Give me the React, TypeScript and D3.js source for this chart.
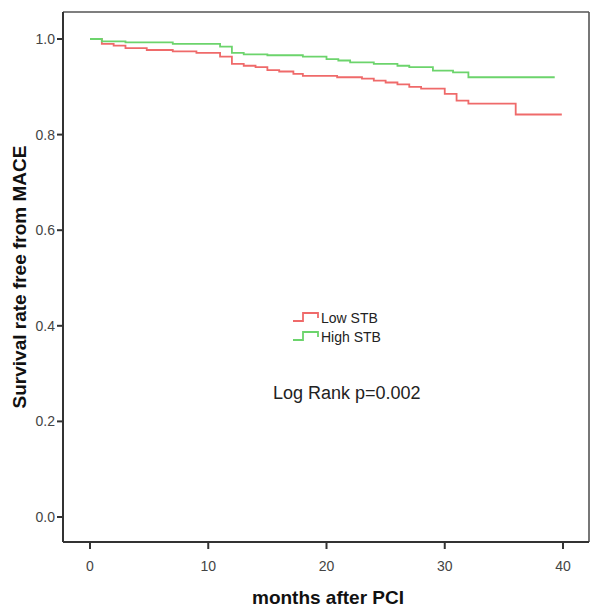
import React from "react";
import * as d3 from "d3";

const lowTimes = [0, 1, 2, 3, 4.8, 7, 9, 11, 12, 13, 14, 15, 16, 17.2, 18, 20.9, 23, 24, 25, 26, 27, 28, 30, 31, 32, 36, 39.9];
const lowSurv = [1.0, 0.99, 0.986, 0.981, 0.977, 0.974, 0.971, 0.963, 0.948, 0.944, 0.941, 0.935, 0.932, 0.927, 0.923, 0.92, 0.917, 0.913, 0.909, 0.905, 0.9, 0.896, 0.885, 0.871, 0.865, 0.842, 0.842];
const highTimes = [0, 1, 3, 7, 11, 12, 13, 15, 18, 20, 21, 22, 24, 26, 27, 29, 30.7, 32, 39.3];
const highSurv = [1.0, 0.995, 0.993, 0.99, 0.984, 0.971, 0.968, 0.966, 0.963, 0.958, 0.955, 0.951, 0.948, 0.944, 0.941, 0.934, 0.93, 0.92, 0.92];

const xTicks = [0, 10, 20, 30, 40];
const yTicks = [0, 0.2, 0.4, 0.6, 0.8, 1.0];
const seriesNames = ["Low STB", "High STB"];
const seriesColors = ["#ef6a6a", "#6cd46c"];

export default function App() {
  const W = 600, H = 609;
  const frame = { left: 63, top: 12, right: 589, bottom: 542 };
  const x = d3.scaleLinear().domain([0, 40]).range([90, 563]);
  const y = d3.scaleLinear().domain([0, 1]).range([517, 39]);
  const line = d3
    .line<[number, number]>()
    .x((d) => x(d[0]))
    .y((d) => y(d[1]))
    .curve(d3.curveStepAfter);
  const series = [
    { t: lowTimes, s: lowSurv },
    { t: highTimes, s: highSurv },
  ];
  const font = "'Liberation Sans', Arial, sans-serif";
  const legX = 293;
  const legY = [321, 340];
  return (
    <svg width={W} height={H} style={{ position: "absolute", left: 0, top: 0, background: "#fff" }}>
      <rect x={0} y={0} width={W} height={H} fill="#fff" />
      {/* frame */}
      <line x1={frame.left} y1={frame.top} x2={frame.right} y2={frame.top} stroke="#555" strokeWidth={1.6} />
      <line x1={frame.right} y1={frame.top} x2={frame.right} y2={frame.bottom} stroke="#555" strokeWidth={1.6} />
      <line x1={frame.left} y1={frame.top} x2={frame.left} y2={frame.bottom} stroke="#333" strokeWidth={2} />
      <line x1={frame.left} y1={frame.bottom} x2={frame.right} y2={frame.bottom} stroke="#333" strokeWidth={2} />
      {/* y ticks */}
      {yTicks.map((v) => (
        <g key={"y" + v}>
          <line x1={57} x2={frame.left} y1={y(v)} y2={y(v)} stroke="#333" strokeWidth={2} />
          <text x={55} y={y(v)} dy="0.35em" textAnchor="end" fontFamily={font} fontSize={14} fill="#444">
            {v.toFixed(1)}
          </text>
        </g>
      ))}
      {/* x ticks */}
      {xTicks.map((v) => (
        <g key={"x" + v}>
          <line x1={x(v)} x2={x(v)} y1={frame.bottom} y2={549} stroke="#333" strokeWidth={2} />
          <text x={x(v)} y={571} textAnchor="middle" fontFamily={font} fontSize={14} fill="#444">
            {v}
          </text>
        </g>
      ))}
      {/* curves */}
      {series.map((sr, i) => (
        <path
          key={i}
          d={line(sr.t.map((t, j) => [t, sr.s[j]] as [number, number])) || ""}
          fill="none"
          stroke={seriesColors[i]}
          strokeWidth={1.8}
        />
      ))}
      {/* legend */}
      {seriesNames.map((n, i) => (
        <g key={n}>
          <path
            d={`M${legX},${legY[i]} H${legX + 10} V${legY[i] - 8} H${legX + 25} V${legY[i] - 3}`}
            fill="none"
            stroke={seriesColors[i]}
            strokeWidth={1.8}
          />
          <text x={legX + 28} y={legY[i] - 3} dy="0.35em" fontFamily={font} fontSize={14} fill="#222">
            {n}
          </text>
        </g>
      ))}
      <text x={273} y={393} dy="0.35em" fontFamily={font} fontSize={18} fill="#222">
        Log Rank p=0.002
      </text>
      {/* axis titles */}
      <text x={328} y={604} textAnchor="middle" fontFamily={font} fontSize={19} fontWeight="bold" fill="#111">
        months after PCI
      </text>
      <text
        transform={`translate(26,277) rotate(-90)`}
        textAnchor="middle"
        fontFamily={font}
        fontSize={19}
        fontWeight="bold"
        fill="#111"
      >
        Survival rate free from MACE
      </text>
    </svg>
  );
}
